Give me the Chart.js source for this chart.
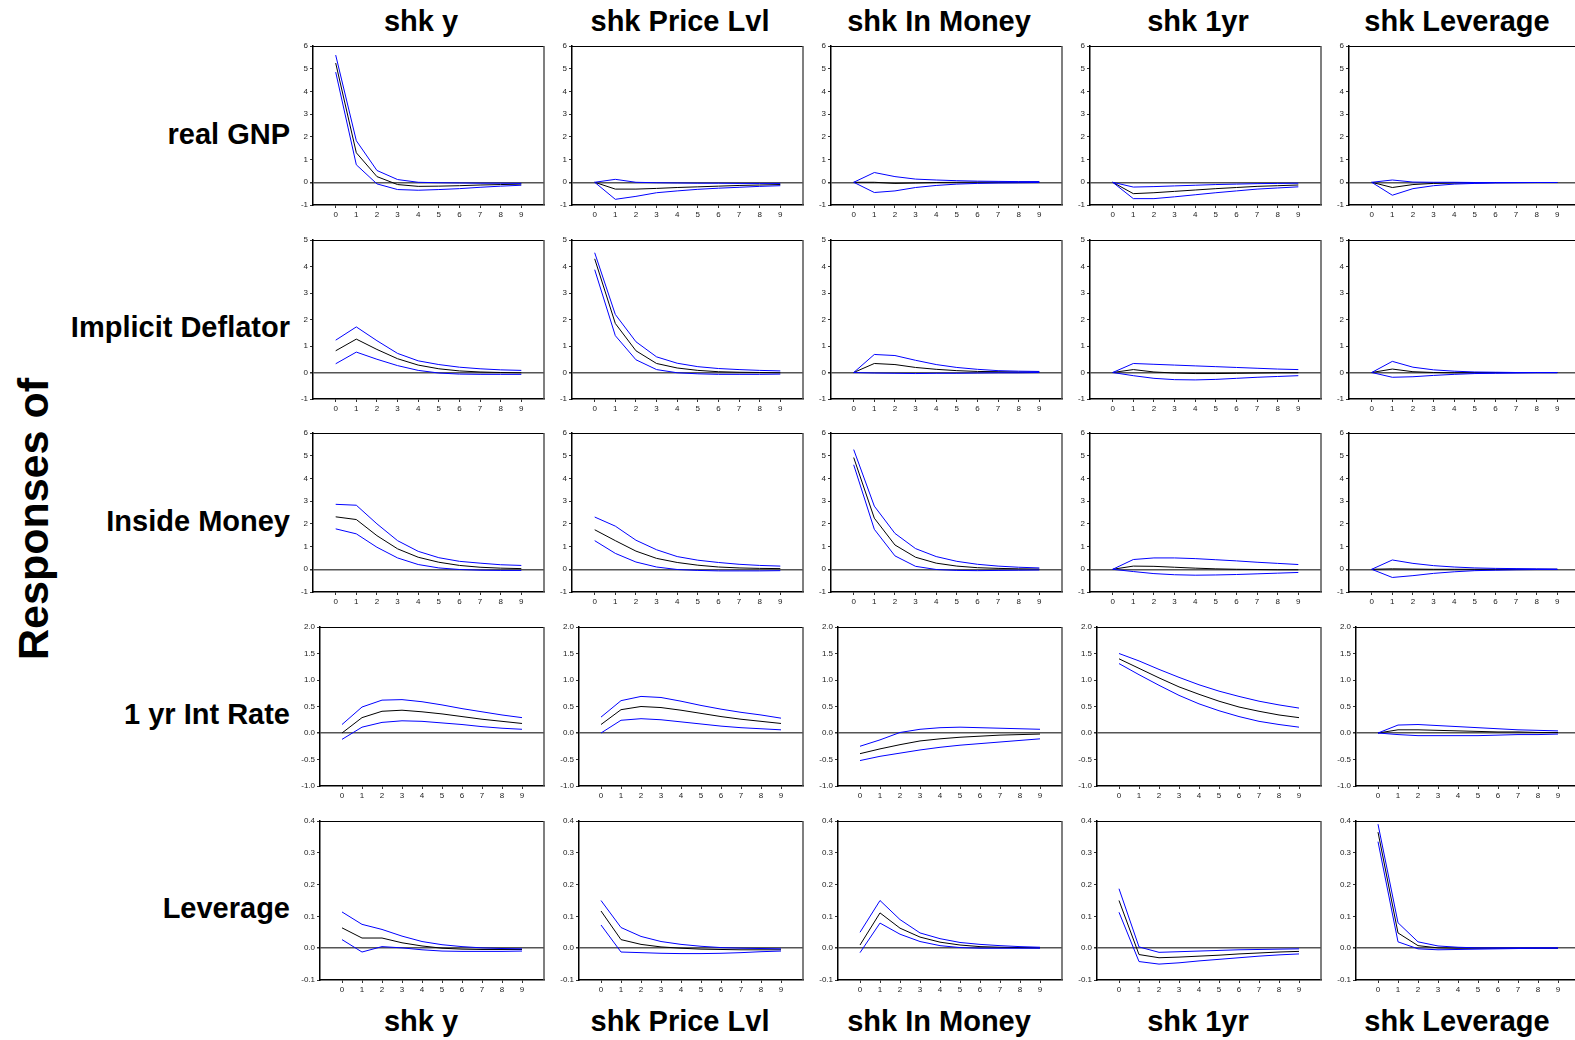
<!DOCTYPE html>
<html>
<head>
<meta charset="utf-8">
<script src="https://cdn.jsdelivr.net/npm/chart.js@4.4.1/dist/chart.umd.min.js"></script>
<style>
  html, body { margin: 0; padding: 0; background: #fff; }
  #wrap { position: relative; width: 1575px; height: 1040px; overflow: hidden; background: #fff;
          font-family: "Liberation Sans", Arial, sans-serif; color: #000; }
  .ttl { position: absolute; font-weight: bold; font-size: 29px; white-space: nowrap; transform: translate(-50%, -50%); }
  .row { position: absolute; left: 0; width: 290px; text-align: right; font-weight: bold; font-size: 29px; white-space: nowrap; transform: translateY(-50%); }
  .side { position: absolute; font-weight: bold; font-size: 43px; white-space: nowrap; transform: translate(-50%, -50%) rotate(-90deg); }
  .cell { position: absolute; }
</style>
</head>
<body>
<div id="wrap"></div>
<script>
// ---- data ----
const horizon = [0, 1, 2, 3, 4, 5, 6, 7, 8, 9];
const shocks = ['shk y', 'shk Price Lvl', 'shk In Money', 'shk 1yr', 'shk Leverage'];
const responses = ['real GNP', 'Implicit Deflator', 'Inside Money', '1 yr Int Rate', 'Leverage'];

// y tick labels per response row
const yTicksGnp = [-1, 0, 1, 2, 3, 4, 5, 6];
const yTicksDef = [-1, 0, 1, 2, 3, 4, 5];
const yTicksIm = [-1, 0, 1, 2, 3, 4, 5, 6];
const yTicksRate = [-1.0, -0.5, 0.0, 0.5, 1.0, 1.5, 2.0];
const yTicksLev = [-0.1, 0.0, 0.1, 0.2, 0.3, 0.4];

// each array: one series of 10 values per shock (columns)
const gnpHi = [
  [5.6, 1.83, 0.52, 0.12, 0.0, -0.02, -0.03, -0.04, -0.04, -0.05],
  [0, 0.13, 0.0, -0.02, -0.03, -0.04, -0.04, -0.05, -0.05, -0.05],
  [0, 0.43, 0.25, 0.14, 0.1, 0.07, 0.05, 0.04, 0.03, 0.03],
  [0, -0.21, -0.19, -0.16, -0.13, -0.1, -0.08, -0.06, -0.05, -0.04],
  [0, 0.1, 0.01, 0, 0, -0.01, -0.01, -0.01, -0.01, -0.01]
];
const gnpMid = [
  [5.25, 1.3, 0.25, -0.1, -0.18, -0.17, -0.15, -0.12, -0.1, -0.08],
  [0, -0.3, -0.3, -0.27, -0.23, -0.2, -0.17, -0.14, -0.12, -0.1],
  [0, 0.0, -0.05, -0.03, -0.01, 0, 0.01, 0.01, 0.01, 0.01],
  [0, -0.5, -0.46, -0.4, -0.34, -0.28, -0.23, -0.18, -0.15, -0.12],
  [0, -0.23, -0.1, -0.05, -0.03, -0.02, -0.01, -0.01, -0.01, -0.01]
];
const gnpLo = [
  [4.85, 0.77, -0.07, -0.32, -0.35, -0.32, -0.28, -0.22, -0.17, -0.13],
  [0, -0.75, -0.62, -0.46, -0.38, -0.31, -0.26, -0.22, -0.18, -0.15],
  [0, -0.45, -0.38, -0.23, -0.14, -0.08, -0.05, -0.03, -0.02, -0.01],
  [0, -0.72, -0.72, -0.64, -0.55, -0.46, -0.38, -0.3, -0.25, -0.2],
  [0, -0.57, -0.28, -0.15, -0.08, -0.05, -0.03, -0.02, -0.01, -0.01]
];

const defHi = [
  [1.22, 1.72, 1.2, 0.72, 0.44, 0.3, 0.2, 0.14, 0.1, 0.08],
  [4.52, 2.19, 1.16, 0.59, 0.35, 0.22, 0.15, 0.11, 0.08, 0.06],
  [0, 0.68, 0.64, 0.46, 0.3, 0.19, 0.12, 0.07, 0.05, 0.04],
  [0, 0.34, 0.31, 0.28, 0.25, 0.22, 0.19, 0.16, 0.13, 0.11],
  [0, 0.42, 0.2, 0.1, 0.05, 0.02, 0.01, 0, 0, 0]
];
const defMid = [
  [0.82, 1.26, 0.87, 0.52, 0.28, 0.14, 0.06, 0.02, 0, -0.01],
  [4.29, 1.85, 0.82, 0.34, 0.17, 0.08, 0.03, 0.01, 0, -0.01],
  [0, 0.34, 0.3, 0.19, 0.12, 0.07, 0.04, 0.03, 0.02, 0.02],
  [0, 0.11, 0.02, -0.02, -0.04, -0.04, -0.03, -0.02, -0.01, -0.01],
  [0, 0.13, 0.03, 0, -0.01, -0.01, 0, 0, 0, 0]
];
const defLo = [
  [0.33, 0.77, 0.5, 0.26, 0.08, -0.02, -0.06, -0.07, -0.07, -0.07],
  [3.88, 1.39, 0.48, 0.11, -0.01, -0.05, -0.07, -0.07, -0.07, -0.06],
  [0, -0.02, -0.03, -0.04, -0.03, -0.03, -0.02, -0.01, -0.01, 0],
  [0, -0.12, -0.22, -0.27, -0.28, -0.26, -0.22, -0.18, -0.15, -0.12],
  [0, -0.18, -0.16, -0.11, -0.07, -0.04, -0.03, -0.02, -0.01, -0.01]
];

const imHi = [
  [2.86, 2.82, 2.0, 1.26, 0.79, 0.51, 0.35, 0.27, 0.2, 0.17],
  [2.3, 1.9, 1.28, 0.86, 0.56, 0.4, 0.3, 0.22, 0.17, 0.14],
  [5.27, 2.78, 1.58, 0.91, 0.56, 0.35, 0.22, 0.14, 0.09, 0.06],
  [0, 0.43, 0.5, 0.5, 0.47, 0.42, 0.37, 0.31, 0.26, 0.21],
  [0, 0.41, 0.26, 0.16, 0.1, 0.06, 0.04, 0.03, 0.02, 0.01]
];
const imMid = [
  [2.31, 2.19, 1.48, 0.9, 0.53, 0.31, 0.17, 0.09, 0.05, 0.03],
  [1.74, 1.26, 0.8, 0.48, 0.3, 0.18, 0.1, 0.06, 0.04, 0.03],
  [4.92, 2.25, 1.07, 0.53, 0.27, 0.14, 0.07, 0.04, 0.02, 0.01],
  [0, 0.14, 0.13, 0.09, 0.05, 0.02, 0, -0.01, -0.02, -0.02],
  [0, 0.02, 0.01, 0, 0, 0, 0, 0, 0, 0]
];
const imLo = [
  [1.78, 1.56, 0.97, 0.5, 0.21, 0.06, -0.01, -0.04, -0.05, -0.05],
  [1.26, 0.7, 0.32, 0.1, -0.01, -0.05, -0.07, -0.07, -0.07, -0.06],
  [4.6, 1.76, 0.59, 0.13, -0.01, -0.05, -0.06, -0.05, -0.04, -0.03],
  [0, -0.1, -0.19, -0.24, -0.26, -0.25, -0.23, -0.2, -0.17, -0.14],
  [0, -0.36, -0.28, -0.18, -0.11, -0.06, -0.04, -0.02, -0.01, -0.01]
];

const rateHi = [
  [0.16, 0.49, 0.62, 0.63, 0.59, 0.53, 0.46, 0.4, 0.34, 0.29],
  [0.3, 0.61, 0.69, 0.67, 0.6, 0.52, 0.45, 0.39, 0.34, 0.28],
  [-0.25, -0.13, 0.01, 0.07, 0.1, 0.11, 0.1, 0.09, 0.08, 0.07],
  [1.5, 1.36, 1.2, 1.05, 0.91, 0.79, 0.69, 0.6, 0.53, 0.47],
  [0, 0.15, 0.16, 0.14, 0.12, 0.1, 0.08, 0.06, 0.05, 0.04]
];
const rateMid = [
  [0, 0.29, 0.41, 0.43, 0.4, 0.36, 0.31, 0.26, 0.22, 0.18],
  [0.16, 0.44, 0.5, 0.48, 0.43, 0.37, 0.31, 0.26, 0.22, 0.18],
  [-0.39, -0.3, -0.22, -0.15, -0.11, -0.08, -0.06, -0.04, -0.03, -0.02],
  [1.4, 1.22, 1.04, 0.87, 0.73, 0.6, 0.49, 0.41, 0.34, 0.29],
  [0, 0.06, 0.06, 0.05, 0.04, 0.03, 0.02, 0.02, 0.01, 0.01]
];
const rateLo = [
  [-0.12, 0.11, 0.2, 0.23, 0.22, 0.19, 0.16, 0.12, 0.09, 0.07],
  [0, 0.24, 0.27, 0.25, 0.21, 0.17, 0.13, 0.1, 0.08, 0.06],
  [-0.52, -0.44, -0.38, -0.32, -0.27, -0.23, -0.2, -0.17, -0.14, -0.11],
  [1.31, 1.1, 0.9, 0.71, 0.55, 0.42, 0.31, 0.22, 0.16, 0.11],
  [0, -0.03, -0.05, -0.05, -0.05, -0.05, -0.04, -0.03, -0.03, -0.02]
];

const levHi = [
  [0.114, 0.075, 0.059, 0.038, 0.021, 0.011, 0.005, 0.001, -0.001, -0.002],
  [0.15, 0.065, 0.037, 0.021, 0.012, 0.006, 0.002, 0, -0.001, -0.002],
  [0.05, 0.15, 0.09, 0.048, 0.03, 0.018, 0.012, 0.008, 0.005, 0.003],
  [0.187, 0.004, -0.013, -0.011, -0.009, -0.007, -0.005, -0.004, -0.003, -0.002],
  [0.39, 0.08, 0.02, 0.007, 0.003, 0.001, 0.001, 0.001, 0.001, 0.001]
];
const levMid = [
  [0.064, 0.032, 0.032, 0.017, 0.007, 0, -0.003, -0.004, -0.004, -0.004],
  [0.117, 0.027, 0.012, 0.004, 0, -0.003, -0.004, -0.005, -0.005, -0.005],
  [0.01, 0.111, 0.063, 0.035, 0.019, 0.01, 0.005, 0.003, 0.002, 0.001],
  [0.15, -0.02, -0.03, -0.028, -0.025, -0.022, -0.018, -0.015, -0.012, -0.01],
  [0.365, 0.048, 0.008, 0.001, 0, 0, 0, 0, 0, 0]
];
const levLo = [
  [0.027, -0.012, 0.005, 0.001, -0.005, -0.009, -0.01, -0.01, -0.01, -0.009],
  [0.073, -0.012, -0.014, -0.016, -0.017, -0.017, -0.016, -0.014, -0.011, -0.009],
  [-0.014, 0.079, 0.044, 0.021, 0.008, 0.002, 0, 0, 0, 0],
  [0.113, -0.042, -0.05, -0.046, -0.04, -0.035, -0.03, -0.025, -0.021, -0.018],
  [0.335, 0.02, -0.002, -0.005, -0.004, -0.003, -0.002, -0.001, 0, 0]
];

// ---- layout ----
const FONT = '"Liberation Sans", Arial, sans-serif';
const rowsHi = [gnpHi, defHi, imHi, rateHi, levHi];
const rowsMid = [gnpMid, defMid, imMid, rateMid, levMid];
const rowsLo = [gnpLo, defLo, imLo, rateLo, levLo];
const rowTicks = [yTicksGnp, yTicksDef, yTicksIm, yTicksRate, yTicksLev];
const rowDecimals = [0, 0, 0, 1, 1];

const plotTops = [46, 240, 433, 627, 821];
const plotH = 159;
const plotRights = [544, 803, 1062, 1321, 1580];
const leftsNarrow = [313, 572, 831, 1090, 1349];   // rows with integer labels
const leftShiftWide = 7;                            // rows with "-1.0" style labels
const yAxisW = 30, padTop = 10, xAxisH = 20, padRight = 3;

const wrap = document.getElementById('wrap');

function addText(cls, text, x, y) {
  const d = document.createElement('div');
  d.className = cls;
  d.textContent = text;
  if (x !== null) d.style.left = x + 'px';
  d.style.top = y + 'px';
  wrap.appendChild(d);
  return d;
}

shocks.forEach((s, c) => {
  addText('ttl', s, 421 + 259 * c, 21);
  addText('ttl', s, 421 + 259 * c, 1021);
});
const rowLabelY = [134, 327, 521, 714, 908];
responses.forEach((r, i) => addText('row', r, null, rowLabelY[i]));
addText('side', 'Responses of', 33, 519);

// top and right frame of each plot
const framePlugin = {
  id: 'frame',
  afterDraw(chart) {
    const { ctx, chartArea: a } = chart;
    ctx.save();
    ctx.strokeStyle = '#000';
    ctx.lineWidth = 1;
    ctx.beginPath(); ctx.moveTo(a.left, a.top + 0.5); ctx.lineTo(a.right, a.top + 0.5); ctx.stroke();
    ctx.strokeStyle = '#555';
    ctx.lineWidth = 1.5;
    ctx.beginPath(); ctx.moveTo(a.right, a.top); ctx.lineTo(a.right, a.bottom); ctx.stroke();
    ctx.restore();
  }
};

function pts(arr) { return arr.map((v, i) => ({ x: horizon[i], y: v })); }

for (let r = 0; r < 5; r++) {
  for (let c = 0; c < 5; c++) {
    const left = leftsNarrow[c] + (r >= 3 ? leftShiftWide : 0);
    const plotW = plotRights[c] - left;
    const cw = yAxisW + plotW + padRight;
    const ch = padTop + plotH + xAxisH;
    const cell = document.createElement('div');
    cell.className = 'cell';
    cell.style.left = (left - yAxisW) + 'px';
    cell.style.top = (plotTops[r] - padTop) + 'px';
    cell.style.width = cw + 'px';
    cell.style.height = ch + 'px';
    const cv = document.createElement('canvas');
    cv.width = cw; cv.height = ch;
    cv.style.width = cw + 'px'; cv.style.height = ch + 'px';
    cell.appendChild(cv);
    wrap.appendChild(cell);

    const ticks = rowTicks[r];
    const dec = rowDecimals[r];
    new Chart(cv, {
      type: 'line',
      data: {
        datasets: [
          { data: pts(rowsHi[r][c]), borderColor: '#0000ff', borderWidth: 1 },
          { data: pts(rowsLo[r][c]), borderColor: '#0000ff', borderWidth: 1 },
          { data: pts(rowsMid[r][c]), borderColor: '#000000', borderWidth: 1 }
        ]
      },
      options: {
        responsive: false,
        animation: false,
        events: [],
        elements: { point: { radius: 0 }, line: { tension: 0 } },
        layout: { padding: { top: padTop, right: padRight, left: 0, bottom: 0 } },
        plugins: { legend: { display: false }, tooltip: { enabled: false } },
        scales: {
          x: {
            type: 'linear', min: -1.1, max: 10.1,
            afterBuildTicks: s => { s.ticks = horizon.map(v => ({ value: v })); },
            afterFit: s => { s.height = xAxisH; },
            grid: { drawOnChartArea: false, tickLength: 3, color: '#333', lineWidth: 1 },
            border: { color: '#000', width: 1.5 },
            ticks: { font: { family: FONT, size: 8 }, color: '#222', padding: 2, maxRotation: 0, autoSkip: false }
          },
          y: {
            min: ticks[0], max: ticks[ticks.length - 1],
            afterBuildTicks: s => { s.ticks = ticks.map(v => ({ value: v })); },
            afterFit: s => { s.width = yAxisW; },
            grid: {
              color: g => (g.tick && Math.abs(g.tick.value) < 1e-9) ? '#555' : 'rgba(0,0,0,0)',
              lineWidth: g => (g.tick && Math.abs(g.tick.value) < 1e-9) ? 1.5 : 1,
              tickColor: '#333', tickLength: 3
            },
            border: { color: '#000', width: 1.5 },
            ticks: {
              font: { family: FONT, size: 8 }, color: '#222', padding: 2,
              callback: v => Number(v).toFixed(dec)
            }
          }
        }
      },
      plugins: [framePlugin]
    });
  }
}
</script>
</body>
</html>
